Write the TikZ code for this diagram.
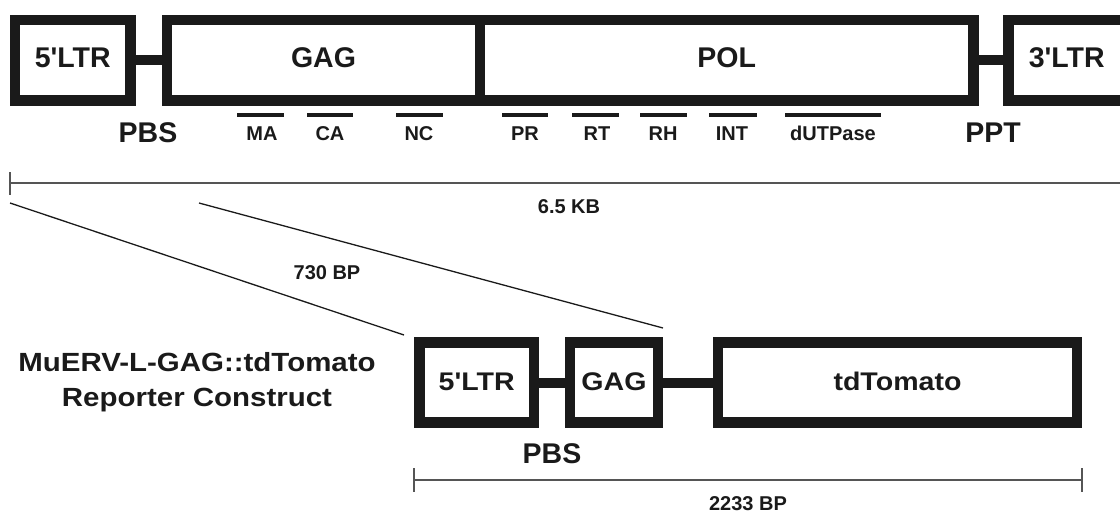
\documentclass[tikz,border=0pt]{standalone}
\usepackage{fontspec}
\setmainfont{Liberation Sans}
\newfontfamily\arialfont{Liberation Sans}
\newfontfamily\widefont{Liberation Sans}[FakeStretch=1.12]
\definecolor{ink}{HTML}{1A1A1A}
\definecolor{rule}{HTML}{555555}
\tikzset{
  box/.style={draw=ink, line width=10.5pt, inner sep=0pt, outer sep=0pt,
    text=ink, font=\arialfont\fontsize{28.5}{30}\selectfont\bfseries, text height=20pt, text depth=6pt},
  bbox/.style={box, minimum height=80pt, font=\widefont\fontsize{25.5}{28}\selectfont\bfseries,
    text height=18pt, text depth=2pt},
  link/.style={draw=ink, line width=10pt},
  bar/.style={fill=ink, inner sep=0pt, outer sep=0pt, minimum height=4pt},
  sub/.style={text=ink, inner sep=0pt, font=\arialfont\fontsize{20}{22}\selectfont\bfseries,
    text height=14pt, text depth=0pt},
  big/.style={text=ink, inner sep=0pt, font=\arialfont\fontsize{28.5}{30}\selectfont\bfseries,
    text height=20pt, text depth=0pt},
  wide/.style={text=ink, inner sep=0pt, font=\widefont\fontsize{26.3}{28}\selectfont\bfseries,
    text height=18pt, text depth=0pt},
  size/.style={text=ink, inner sep=0pt, font=\arialfont\fontsize{20}{22}\selectfont\bfseries,
    text height=15pt, text depth=0pt},
  scalebar/.style={draw=rule, line width=1.4pt},
  zoomline/.style={draw=ink, line width=1.3pt},
}
\begin{document}
\begin{tikzpicture}[x=1pt, y=-1pt]
\useasboundingbox (0,0) rectangle (1120,515);
\clip (0,0) rectangle (1120,515);

% ---------- top genome ----------
\node[box, minimum width=115.5pt, minimum height=80.5pt] (ltr5) at (72.75,60.25) {5'LTR};
\node[box, minimum width=313pt, minimum height=80.5pt] (gag) at (323.5,60.25) {GAG};
\node[box, minimum width=493.5pt, minimum height=80.5pt] (pol) at (726.75,60.25) {POL};
\node[box, minimum width=116.5pt, minimum height=80.5pt] (ltr3) at (1066.75,60.25) {3'LTR};
\draw[link] (ltr5.east) -- (gag.west);
\draw[link] (pol.east) -- (ltr3.west);

\node[big] (pbs) at (148,132) {PBS};
\node[big] (ppt) at (993,132) {PPT};

% domain bars
\node[bar, minimum width=47pt] (bMA) at (260.5,114.5) {};
\node[bar, minimum width=46pt] (bCA) at (330,114.5) {};
\node[bar, minimum width=47pt] (bNC) at (419.5,114.5) {};
\node[bar, minimum width=46pt] (bPR) at (525,114.5) {};
\node[bar, minimum width=47pt] (bRT) at (595.5,114.5) {};
\node[bar, minimum width=47pt] (bRH) at (663.5,114.5) {};
\node[bar, minimum width=48pt] (bINT) at (733,114.5) {};
\node[bar, minimum width=96pt] (bDUT) at (833,114.5) {};
\node[sub] (tMA) at (262,133) {MA};
\node[sub] (tCA) at (330,133) {CA};
\node[sub] (tNC) at (419,133) {NC};
\node[sub] (tPR) at (525,133) {PR};
\node[sub] (tRT) at (597,133) {RT};
\node[sub] (tRH) at (663,133) {RH};
\node[sub] (tINT) at (732,133) {INT};
\node[sub] (tDUT) at (833,133) {dUTPase};

% top scale bar
\coordinate (sA) at (10,183);
\coordinate (sB) at (1125,183);
\draw[scalebar] (sA) -- (sB);
\draw[scalebar] (10,172) -- (10,195);
\node[size] (kb) at (569,206) {6.5 KB};

% zoom lines
\coordinate (zA1) at (10,203);
\coordinate (zA2) at (404,335);
\coordinate (zB1) at (199,203);
\coordinate (zB2) at (663,328);
\draw[zoomline] (zA1) -- (zA2);
\draw[zoomline] (zB1) -- (zB2);
\node[size] (bp730) at (327,272) {730 BP};

% construct title
\node[wide] (title1) at (197,362) {MuERV-L-GAG::tdTomato};
\node[wide] (title2) at (197,397) {Reporter Construct};

% ---------- bottom construct ----------
\node[bbox, minimum width=114.5pt] (bltr5) at (476.75,382.5) {5'LTR};
\node[bbox, minimum width=88pt] (bgag) at (614,382.5) {GAG};
\node[bbox, minimum width=359pt] (btd) at (897.5,382.5) {tdTomato};
\draw[link] (bltr5.east) -- (bgag.west);
\draw[link] (bgag.east) -- (btd.west);
\node[big] (bpbs) at (552,453) {PBS};

% bottom scale bar
\coordinate (tA) at (414,480);
\coordinate (tB) at (1082,480);
\draw[scalebar] (tA) -- (tB);
\draw[scalebar] (414,468) -- (414,492);
\draw[scalebar] (1082,468) -- (1082,492);
\node[size] (bp2233) at (748,503) {2233 BP};
\end{tikzpicture}
\end{document}
